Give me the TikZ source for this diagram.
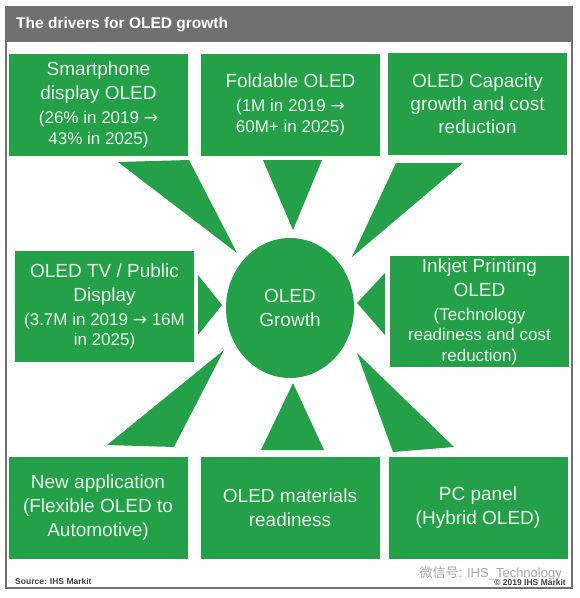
\documentclass[tikz,border=0pt]{standalone}
\usepackage{fontspec}
\setmainfont{Liberation Sans}
\newfontfamily\cjk{Noto Sans CJK SC}
\newfontfamily\arrowfont{DejaVu Sans}
\usetikzlibrary{positioning, shapes.geometric}
\definecolor{mygreen}{RGB}{35,160,72}
\definecolor{mygray}{RGB}{112,112,112}
\definecolor{mytext}{RGB}{232,244,232}
\newcommand{\lgtxt}{\fontsize{19}{24}\selectfont}
\newcommand{\smtxt}{\fontsize{17}{21}\selectfont}
\newcommand{\toarr}{{\arrowfont →}}

\begin{document}
\begin{tikzpicture}[x=1pt, y=-1pt,
  driver/.style={rectangle, fill=mygreen, text=mytext, font=\lgtxt, minimum width=179pt, minimum height=102pt, inner sep=2pt, align=center},
  wedge/.style={fill=mygreen}]
\useasboundingbox (0,0) rectangle (580,598);

% Frame and title bar
\draw[mygray, line width=2pt] (6,7) rectangle (572,588);
\fill[mygray] (6,7) rectangle (572,42);
\node[anchor=west, text=white, font=\fontsize{15.5}{18}\selectfont\bfseries, inner sep=0pt] (title) at (16,24.5) {The drivers for OLED growth};

% Top row
\node[driver] (phone) at (98.5,105) {Smartphone\\ display OLED\\ \smtxt (26\% in 2019 \toarr\\[-3.5pt] \smtxt 43\% in 2025)};
\node[driver] (fold) at (290.5,105) {Foldable OLED\\ \smtxt (1M in 2019 \toarr\\[-3.5pt] \smtxt 60M+ in 2025)};
\node[driver] (capa) at (477.5,104) {OLED Capacity\\[-1pt] growth and cost\\[-1pt] reduction};

% Middle row
\node[driver, minimum height=111pt] (tv) at (104.5,306.5) {OLED TV / Public\\ Display\\ \smtxt (3.7M in 2019 \toarr\ 16M\\[-3.5pt] \smtxt in 2025)};
\node[ellipse, fill=mygreen, text=mytext, font=\lgtxt, minimum width=128pt, minimum height=140pt, inner sep=0pt, align=center] (growth) at (290,308) {OLED\\ Growth};
\node[driver, minimum height=109pt] (inkjet) at (479.5,311.5) {Inkjet Printing\\ OLED\\ \smtxt (Technology\\[-3.5pt] \smtxt readiness and cost\\[-3.5pt] \smtxt reduction)};

% Bottom row
\node[driver] (newapp) at (98,508) {New application\\ (Flexible OLED to\\ Automotive)};
\node[driver] (material) at (290,508) {OLED materials\\ readiness};
\node[driver] (pcpanel) at (478,508) {PC panel\\ (Hybrid OLED)};

% Wedges pointing to the centre
\fill[wedge] (118,162) -- (189,160) -- (237,253) -- cycle;
\fill[wedge] (263,160) -- (322,160) -- (293,230) -- cycle;
\fill[wedge] (396,163) -- (463,163) -- (352,257) -- cycle;
\fill[wedge] (198,275) -- (198,335) -- (222,305) -- cycle;
\fill[wedge] (385,273) -- (385,335) -- (357,303) -- cycle;
\fill[wedge] (224,350) -- (107,445) -- (174,447) -- cycle;
\fill[wedge] (293,383) -- (261,450) -- (324,450) -- cycle;
\fill[wedge] (357,353) -- (393,452) -- (454,447) -- cycle;

% Footer
\node[anchor=west, text=black!75, font=\fontsize{8.5}{10}\selectfont\bfseries, inner sep=0pt] (source) at (15,581) {Source: IHS Markit};
\node[anchor=east, text=black!35, font=\fontsize{13}{15}\selectfont, inner sep=0pt] (wechat) at (562,573) {{\cjk 微信号}: IHS\_Technology};
\node[anchor=east, text=black!75, font=\fontsize{8.5}{10}\selectfont\bfseries, inner sep=0pt] (copy) at (566,582) {© 2019 IHS Markit};
\end{tikzpicture}
\end{document}
